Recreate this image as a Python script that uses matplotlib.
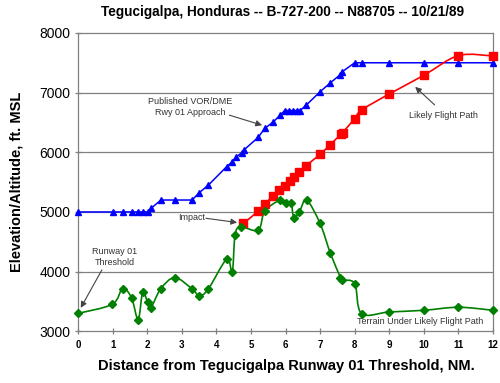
import numpy as np
import matplotlib
matplotlib.use("Agg")
import matplotlib.pyplot as plt
from matplotlib.path import Path
from matplotlib.patches import PathPatch

plt.rcParams["font.family"] = ["Liberation Sans", "DejaVu Sans"]

# Published VOR/DME approach profile
appr_x = [0, 1.0, 1.3, 1.55, 1.74, 1.87, 2.01, 2.11, 2.4, 2.8, 3.3, 3.5, 3.77,
          4.3, 4.46, 4.57, 4.73, 4.8, 5.21, 5.4, 5.65, 5.84, 5.98, 6.11, 6.22,
          6.32, 6.42, 6.6, 7.0, 7.28, 7.57, 7.64, 8.0, 8.2, 9.0, 10.0, 11.0, 12.0]
appr_y = [5000, 5000, 5000, 5000, 5000, 5000, 5000, 5060, 5200, 5200, 5200, 5320, 5450,
          5760, 5840, 5920, 5990, 6040, 6250, 6400, 6510, 6620, 6700, 6700, 6700,
          6700, 6700, 6790, 7015, 7155, 7295, 7350, 7500, 7500, 7500, 7500, 7500, 7500]

# Likely flight path
path_x = [4.78, 5.21, 5.4, 5.63, 5.82, 5.98, 6.13, 6.25, 6.4, 6.59, 7.0, 7.28,
          7.6, 7.65, 8.0, 8.2, 9.0, 10.0, 11.0, 12.0]
path_y = [4807, 5013, 5126, 5270, 5366, 5440, 5517, 5589, 5663, 5773, 5965, 6121,
          6300, 6330, 6562, 6708, 6977, 7290, 7620, 7614]

# Terrain under likely flight path
terr_x = [0.0, 0.99, 1.29, 1.55, 1.74, 1.87, 2.01, 2.11, 2.39, 2.8, 3.31, 3.51,
          3.77, 4.3, 4.46, 4.54, 4.7, 5.21, 5.4, 5.84, 6.01, 6.16, 6.24, 6.4,
          6.61, 7.0, 7.3, 7.59, 7.63, 8.0, 8.2, 9.0, 10.0, 11.0, 12.0]
terr_y = [3300, 3453, 3716, 3559, 3196, 3660, 3492, 3398, 3710, 3900, 3705, 3593,
          3710, 4208, 3990, 4606, 4750, 4695, 5013, 5198, 5153, 5153, 4907, 5002,
          5198, 4807, 4304, 3901, 3856, 3800, 3297, 3324, 3352, 3403, 3352]

x_ticks = list(range(0, 13))
y_ticks = [3000, 4000, 5000, 6000, 7000, 8000]


def smooth_path(xs, ys):
    # Excel-style smoothed line: cubic Bezier segments through the points
    p = np.column_stack([xs, ys]).astype(float)
    n = len(p)
    verts = [p[0]]
    codes = [Path.MOVETO]
    for i in range(n - 1):
        p0 = p[i - 1] if i > 0 else p[i]
        p3 = p[i + 2] if i + 2 < n else p[i + 1]
        c1 = p[i] + (p[i + 1] - p0) / 6.0
        c2 = p[i + 1] - (p3 - p[i]) / 6.0
        verts += [c1, c2, p[i + 1]]
        codes += [Path.CURVE4] * 3
    return Path(verts, codes)


fig = plt.figure(figsize=(5.0, 3.83), dpi=100)
ax = fig.add_axes([0.156, 0.135, 0.83, 0.779])

ax.set_xlim(0, 12)
ax.set_ylim(3000, 8000)
ax.set_yticks(y_ticks)
ax.set_xticks(x_ticks)
for y in y_ticks[1:-1]:
    ax.axhline(y, color="#808080", lw=0.9, zorder=0)

for s in ax.spines.values():
    s.set_color("#808080")
    s.set_linewidth(0.9)
ax.tick_params(axis="both", direction="inout", length=5, color="#808080", width=0.9)
ax.tick_params(axis="x", labelsize=7, pad=4)
ax.tick_params(axis="y", labelsize=10, pad=3)
for lbl in ax.get_xticklabels():
    lbl.set_fontweight("bold")

# approach (straight segments)
ax.plot(appr_x, appr_y, color="#0000FF", lw=1.1, marker="^", ms=5,
        markeredgecolor="#0000FF", zorder=3, clip_on=False)

# likely flight path (smoothed)
ax.add_patch(PathPatch(smooth_path(path_x, path_y), fill=False,
                       edgecolor="#FF0000", lw=1.2, zorder=3))
ax.plot(path_x, path_y, ls="none", marker="s", ms=5.5, color="#FF0000",
        zorder=4, clip_on=False)

# terrain (smoothed)
ax.add_patch(PathPatch(smooth_path(terr_x, terr_y), fill=False,
                       edgecolor="#008000", lw=1.2, zorder=3))
ax.plot(terr_x, terr_y, ls="none", marker="D", ms=4, color="#008000",
        zorder=4, clip_on=False)

arrow = dict(arrowstyle="-|>", color="#444444", lw=0.8, mutation_scale=9)
note = dict(fontsize=6.5, ha="center", va="center", color="#333333", linespacing=1.3)

ax.annotate("", xy=(5.4, 6440), xytext=(4.3, 6636), arrowprops=arrow)
ax.text(3.24, 6760, "Published VOR/DME\nRwy 01 Approach", **note)

ax.annotate("", xy=(9.69, 7128), xytext=(10.37, 6763), arrowprops=arrow)
ax.text(10.56, 6624, "Likely Flight Path", **note)

ax.annotate("", xy=(4.68, 4817), xytext=(3.62, 4900), arrowprops=arrow)
ax.text(3.29, 4900, "Impact", **note)

ax.annotate("", xy=(0.04, 3352), xytext=(0.73, 4069), arrowprops=arrow)
ax.text(1.07, 4240, "Runway 01\nThreshold", **note)

ax.text(9.88, 3156, "Terrain Under Likely Flight Path", **note)

fig.text(0.565, 0.968, "Tegucigalpa, Honduras -- B-727-200 -- N88705 -- 10/21/89",
         fontsize=9.8, fontweight="bold", ha="center", va="center")
fig.text(0.572, 0.045, "Distance from Tegucigalpa Runway 01 Threshold, NM.",
         fontsize=10.5, fontweight="bold", ha="center", va="center")
fig.text(0.034, 0.525, "Elevation/Altitude, ft. MSL", fontsize=10.5,
         fontweight="bold", ha="center", va="center", rotation=90)

fig.savefig("out.png", dpi=100)
